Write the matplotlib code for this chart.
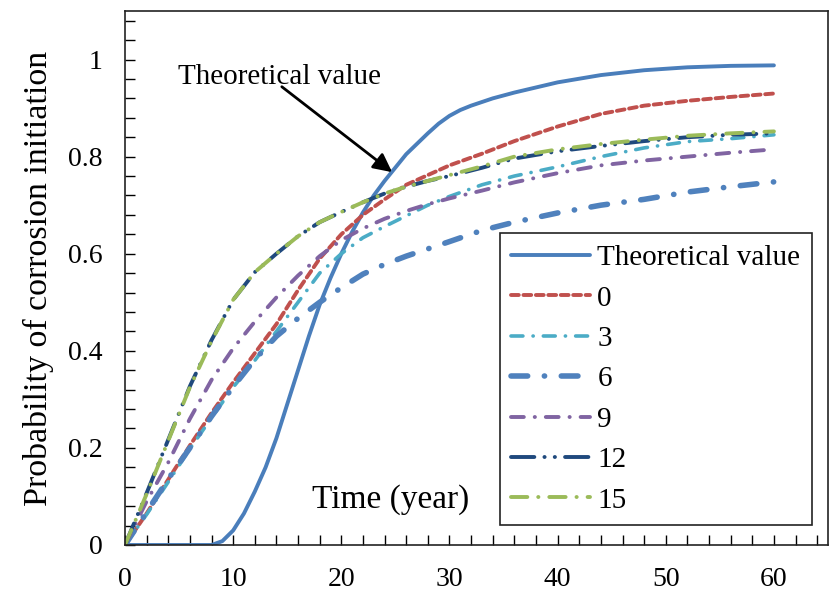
import matplotlib
matplotlib.use("Agg")
import matplotlib.pyplot as plt
from matplotlib.ticker import FixedLocator, MultipleLocator, FuncFormatter

plt.rcParams['font.family'] = ['Liberation Serif', 'DejaVu Serif']

# ---- data ----
t_theory = [0, 2, 4, 6, 8, 9, 10, 11, 12, 13, 14, 15, 16, 17, 18, 19, 20, 21, 22, 23, 24,
            26, 28, 29, 30, 31, 32, 34, 36, 40, 44, 48, 52, 56, 60]
p_theory = [0, 0, 0, 0, 0, 0.008, 0.03, 0.065, 0.11, 0.16, 0.22, 0.29, 0.36, 0.43, 0.495,
            0.55, 0.60, 0.645, 0.685, 0.72, 0.75, 0.805, 0.848, 0.868, 0.884, 0.896, 0.905,
            0.92, 0.932, 0.953, 0.968, 0.978, 0.984, 0.987, 0.988]

t_sim = [0, 2, 4, 6, 8, 10, 12, 14, 16, 18, 20, 22, 24, 26, 28, 30, 33, 36, 40, 44, 48, 52, 56, 60]
p_0 = [0, 0.065, 0.135, 0.205, 0.272, 0.335, 0.395, 0.455, 0.525, 0.59, 0.64, 0.68, 0.712,
       0.742, 0.762, 0.782, 0.806, 0.832, 0.862, 0.888, 0.905, 0.915, 0.923, 0.93]
p_3 = [0, 0.063, 0.13, 0.198, 0.262, 0.325, 0.38, 0.44, 0.50, 0.56, 0.60, 0.633, 0.656,
       0.678, 0.70, 0.718, 0.742, 0.76, 0.779, 0.80, 0.818, 0.831, 0.837, 0.845]
p_6 = [0, 0.068, 0.136, 0.20, 0.265, 0.326, 0.382, 0.43, 0.467, 0.50, 0.53, 0.558, 0.578,
       0.595, 0.61, 0.625, 0.648, 0.665, 0.684, 0.70, 0.712, 0.727, 0.738, 0.748]
p_9 = [0, 0.09, 0.17, 0.26, 0.34, 0.405, 0.46, 0.51, 0.555, 0.595, 0.628, 0.652, 0.672,
       0.688, 0.702, 0.714, 0.73, 0.747, 0.766, 0.782, 0.792, 0.80, 0.808, 0.815]
p_12 = [0, 0.107, 0.217, 0.327, 0.422, 0.505, 0.562, 0.60, 0.636, 0.665, 0.686, 0.706, 0.724,
        0.738, 0.75, 0.76, 0.777, 0.796, 0.811, 0.822, 0.832, 0.84, 0.845, 0.848]
p_15 = [0, 0.105, 0.215, 0.325, 0.42, 0.505, 0.562, 0.60, 0.636, 0.665, 0.686, 0.706, 0.724,
        0.738, 0.75, 0.762, 0.78, 0.80, 0.815, 0.826, 0.835, 0.843, 0.848, 0.852]

labels = ["Theoretical value", "0", "3", "6", "9", "12", "15"]
colors = ["#4A7EBB", "#C0504D", "#4BACC6", "#4F81BD", "#8064A2", "#1F497D", "#9BBB59"]

x_ticks = [0, 10, 20, 30, 40, 50, 60]
y_ticks = [0, 0.2, 0.4, 0.6, 0.8, 1.0]

# ---- figure ----
fig = plt.figure(figsize=(8.30, 5.96), dpi=100)
ax = fig.add_axes([125/830, 1 - 545/596, 703/830, 534/596])

styles = [
    dict(lw=2.8, ls='-'),
    dict(lw=2.8, ls=(0, (2.0, 1.2))),
    dict(lw=2.6, ls=(0, (3.3, 2.8, 0.05, 2.8))),
    dict(lw=4.0, ls=(0, (3.0, 3.0, 0.05, 3.0))),
    dict(lw=2.8, ls=(0, (3.3, 2.8, 0.05, 2.8))),
    dict(lw=2.8, ls=(0, (6.0, 2.6, 0.05, 2.6, 0.05, 2.6))),
    dict(lw=2.8, ls=(0, (4.2, 2.8, 0.05, 2.8))),
]
series = [(t_theory, p_theory), (t_sim, p_0), (t_sim, p_3), (t_sim, p_6),
          (t_sim, p_9), (t_sim, p_12), (t_sim, p_15)]

for (xs, ys), lab, col, st in zip(series, labels, colors, styles):
    ax.plot(xs, ys, color=col, label=lab, linestyle=st['ls'], linewidth=st['lw'],
            dash_capstyle='round', solid_capstyle='round')

ax.set_xlim(0, 65)
ax.set_ylim(0, 1.1)
ax.xaxis.set_major_locator(FixedLocator(x_ticks))
ax.xaxis.set_minor_locator(MultipleLocator(2))
ax.yaxis.set_major_locator(FixedLocator(y_ticks))
ax.yaxis.set_minor_locator(MultipleLocator(0.04))
ax.yaxis.set_major_formatter(FuncFormatter(lambda v, p: f"{v:g}"))
ax.tick_params(which='both', direction='in', length=7, width=1.0, colors='black',
               top=False, right=False)
ax.tick_params(axis='x', which='major', labelsize=20, pad=16)
ax.tick_params(axis='y', which='major', labelsize=20, pad=16)
for s in ax.spines.values():
    s.set_linewidth(1.2)
    s.set_color('#222222')

ax.set_xlabel("Time (year)", fontsize=24)
ax.xaxis.set_label_coords((391 - 125) / 703, (545 - 500) / 534)
ax.xaxis.label.set_va('center')
fig.text(38/830, 1 - 278/596, "Probability of corrosion initiation", rotation=90,
         fontsize=24.5, ha='center', va='center')

ax.text(14.3, 0.965, "Theoretical value", fontsize=21, ha='center', va='center')
ax.annotate('', xy=(24.7, 0.768), xytext=(14.5, 0.944),
            arrowprops=dict(arrowstyle='-|>', lw=2.0, color='black', mutation_scale=28,
                            shrinkA=0, shrinkB=0))

leg = ax.legend(loc='upper right', bbox_to_anchor=((812 - 125) / 703, (545 - 233) / 534),
                fontsize=21, frameon=True, fancybox=False, edgecolor='#222222',
                framealpha=1, handlelength=2.7, handletextpad=0.25, labelspacing=0.48,
                borderpad=0.4, borderaxespad=0)
leg.get_frame().set_linewidth(1.2)

fig.savefig("out.png", dpi=100)
